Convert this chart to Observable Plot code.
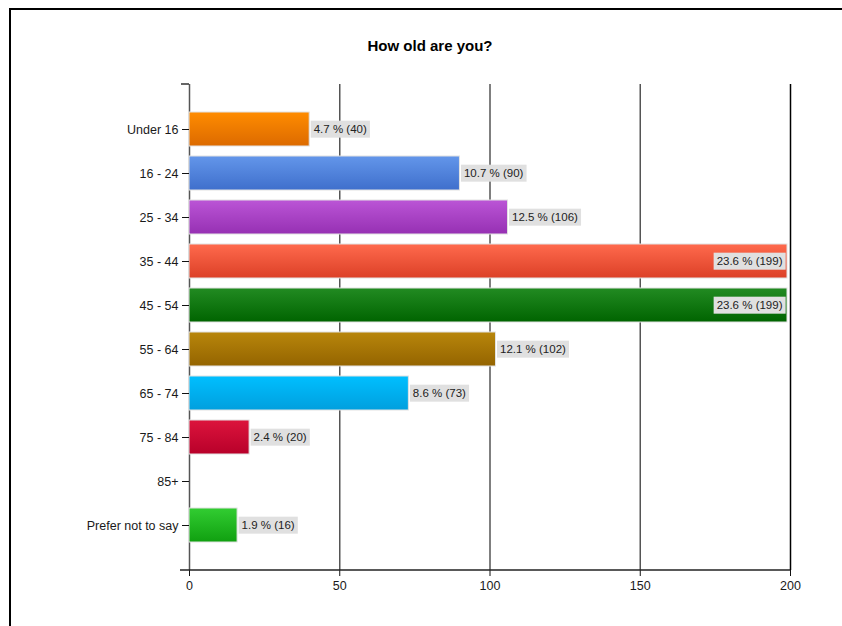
<!DOCTYPE html>
<html>
<head>
<meta charset="utf-8">
<script src="https://cdn.jsdelivr.net/npm/d3@7"></script>
<script src="https://cdn.jsdelivr.net/npm/@observablehq/plot@0.6"></script>
<style>
  html, body { margin: 0; padding: 0; background: #fff; overflow: hidden; }
  #wrap { position: relative; width: 842px; height: 626px; overflow: hidden; background: #fff; }
  #border { position: absolute; left: 9px; top: 8px; width: 900px; height: 700px; border: 2px solid #000; box-sizing: border-box; }
  #title { position: absolute; left: 0; top: 37px; width: 860px; text-align: center;
           font: bold 15px "Liberation Sans", Arial, sans-serif; color: #000; }
  #chart { position: absolute; left: 0; top: 74px; }
</style>
</head>
<body>
<div id="wrap">
  <div id="border"></div>
  <div id="title">How old are you?</div>
  <div id="chart"></div>
</div>
<script>
const categories = ["Under 16", "16 - 24", "25 - 34", "35 - 44", "45 - 54", "55 - 64", "65 - 74", "75 - 84", "85+", "Prefer not to say"];
const counts = [40, 90, 106, 199, 199, 102, 73, 20, 0, 16];
const percents = ["4.7", "10.7", "12.5", "23.6", "23.6", "12.1", "8.6", "2.4", "0", "1.9"];
const colorsTop = ["#ff8c00", "#6396ea", "#bb55d6", "#ff6a4d", "#228b22", "#b8860b", "#00bfff", "#dc143c", "#999999", "#32cd32"];
const colorsBottom = ["#dc6a00", "#3f6fcc", "#9630b3", "#dc4027", "#006400", "#946400", "#009fde", "#b8002a", "#777777", "#10a010"];
const xTicks = [0, 50, 100, 150, 200];

const data = categories.map((c, i) => ({
  category: c, count: counts[i], pct: percents[i], grad: `url(#grad${i})`,
  label: `${percents[i]} % (${counts[i]})`
}));
const shown = data.filter(d => d.count > 0);
const outside = shown.filter(d => d.count < 190);
const inside = shown.filter(d => d.count >= 190);

const plot = Plot.plot({
  width: 842,
  height: 552,
  marginTop: 10,
  marginBottom: 56,
  marginLeft: 189,
  marginRight: 52,
  style: { fontFamily: "'Liberation Sans', Arial, sans-serif", fontSize: "12.5px", color: "#1a1a1a", background: "transparent" },
  x: { domain: [0, 200], label: null },
  y: { domain: categories, paddingInner: 0.23, paddingOuter: 0.615, label: null },
  color: { type: "identity" },
  marks: [
    Plot.ruleX(xTicks.filter(v => v > 0 && v < 200), { stroke: "#555", strokeWidth: 1.5 }),
    Plot.ruleX([200], { stroke: "#000", strokeWidth: 1.5 }),
    Plot.ruleX([0], { stroke: "#555", strokeWidth: 1.5 }),
    Plot.barX(shown, { x: "count", y: "category", fill: "grad", stroke: "#e2e2e2", strokeWidth: 1 }),
    Plot.text(outside, { x: "count", y: "category", text: "label", textAnchor: "start", dx: 4, fontSize: 11.5, fill: "#222", className: "lbl" }),
    Plot.text(inside, { x: "count", y: "category", text: "label", textAnchor: "end", dx: -5, fontSize: 11.5, fill: "#222", className: "lbl" }),
    Plot.axisY({ tickSize: 7, tickPadding: 4, fontSize: 12.5, label: null, stroke: "#111", className: "yax" }),
    Plot.axisX({ ticks: xTicks, tickSize: 6, tickPadding: 5, fontSize: 12.5, label: null, stroke: "#111", className: "xax" })
  ]
});

document.getElementById("chart").appendChild(plot);

const svg = d3.select(plot);
const defs = svg.insert("defs", ":first-child");
categories.forEach((c, i) => {
  const g = defs.append("linearGradient").attr("id", `grad${i}`)
    .attr("x1", 0).attr("y1", 0).attr("x2", 0).attr("y2", 1);
  g.append("stop").attr("offset", "0%").attr("stop-color", colorsTop[i]);
  g.append("stop").attr("offset", "100%").attr("stop-color", colorsBottom[i]);
});

// make sure axis tick labels use the intended size
svg.selectAll("g.xax, g.yax").filter(function () { return this.getAttribute("text-anchor") != null || this.querySelector("text"); })
  .attr("font-size", 12.5);

// label background boxes (same local transform as each text)
svg.selectAll("g.lbl text").each(function () {
  const b = this.getBBox();
  const r = d3.select(this.parentNode).insert("rect", () => this)
    .attr("x", b.x - 3).attr("y", b.y + b.height / 2 - 8.5)
    .attr("width", b.width + 6).attr("height", 17)
    .attr("fill", "#e0e0e0");
  const t = this.getAttribute("transform");
  if (t) r.attr("transform", t);
});

// axis end tick and bottom axis line
const xs = plot.scale("x");
const yr = plot.scale("y").range;
const x0 = xs.apply(0), x1 = xs.apply(200);
svg.append("line").attr("x1", x0 - 8).attr("x2", x0).attr("y1", yr[0]).attr("y2", yr[0])
  .attr("stroke", "#333").attr("stroke-width", 1.5);
svg.append("line").attr("x1", x0 - 9).attr("x2", x1).attr("y1", yr[1]).attr("y2", yr[1])
  .attr("stroke", "#222").attr("stroke-width", 1.5);
</script>
</body>
</html>
